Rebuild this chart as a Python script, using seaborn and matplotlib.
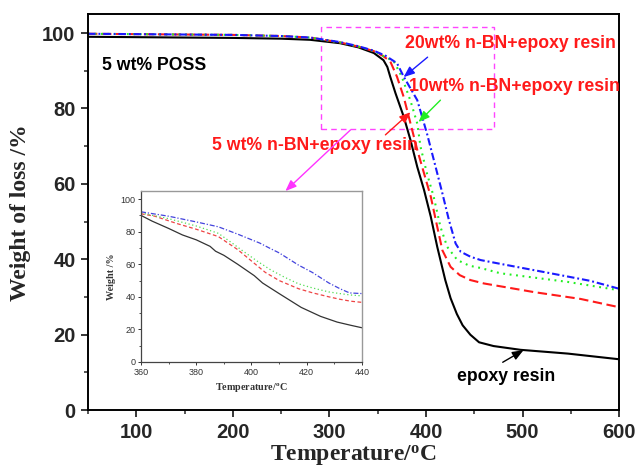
import numpy as np
import pandas as pd
import matplotlib
matplotlib.use("Agg")
import matplotlib.pyplot as plt
from matplotlib.patches import Rectangle
from matplotlib.ticker import MultipleLocator
import seaborn as sns

# ---- TGA curves (temperature in degC, residual weight in %) ----
epoxy_T = [50, 100, 200, 250, 280, 311, 330, 346, 356, 360, 363, 368.5, 377, 384, 391, 398,
           405, 411.7, 420, 425.5, 432, 438, 446, 455, 470, 498, 547, 600]
epoxy_W = [99.0, 98.9, 98.7, 98.5, 98.2, 97.3, 96.2, 94.7, 92.8, 91.0, 88.4, 84.0, 77.8, 71.6,
           64.5, 58.4, 51.3, 43.3, 34.5, 29.7, 25.5, 22.5, 20.0, 18.0, 17.0, 16.0, 15.0, 13.5]

bn5_T = [50, 100, 200, 250, 280, 311, 330, 346, 355, 363, 370, 377, 384, 391, 398, 405,
         411.7, 417, 425.5, 435, 446, 460, 512, 560, 600]
bn5_W = [99.8, 99.7, 99.5, 99.2, 98.8, 97.5, 96.4, 95.2, 94.0, 92.5, 88.4, 83.0, 76.0, 69.0,
         62.8, 56.6, 48.6, 42.4, 38.0, 35.8, 34.5, 33.6, 31.3, 29.5, 27.3]

bn10_T = [50, 100, 200, 250, 280, 311, 330, 346, 355, 366.7, 375, 384, 391, 394.4, 401, 408,
          415, 422, 432.5, 445, 456.6, 477, 547, 600]
bn10_W = [99.8, 99.7, 99.5, 99.2, 98.8, 97.5, 96.4, 95.2, 94.0, 92.5, 88.4, 82.0, 76.0, 69.8,
          62.8, 56.6, 48.6, 43.3, 39.8, 38.3, 37.7, 36.3, 34.0, 31.8]

bn20_T = [50, 100, 200, 250, 280, 311, 330, 346, 358, 370, 377, 391, 401, 410, 417, 423.8,
          430.7, 436, 446, 456.6, 477, 529, 570, 600]
bn20_W = [99.8, 99.7, 99.5, 99.2, 98.8, 97.6, 96.5, 95.3, 94.0, 92.0, 88.4, 82.2, 73.4, 64.5,
          57.5, 50.4, 44.2, 42.0, 40.7, 39.8, 38.8, 36.3, 34.3, 32.2]

# ---- enlarged 360-440 degC window ----
ins_epoxy_T = [360, 364, 370, 375, 380, 385, 387, 390, 395, 401, 404, 410, 418, 425, 431, 436, 440]
ins_epoxy_W = [90, 86.5, 82, 78, 75, 71, 68, 65.5, 60, 53, 48.5, 42, 33.5, 28, 24.5, 22.5, 21]

ins_bn5_T = [360, 365, 373, 380, 388, 395, 400, 405, 410, 417, 422, 428, 432, 436, 440]
ins_bn5_W = [91, 89.5, 85, 81.5, 77, 69, 62, 55, 50, 45, 42.5, 40, 38.5, 37.3, 36.6]

ins_bn10_T = [360, 370, 380, 388, 393, 397, 402, 407, 412, 417, 422, 428, 432, 436, 440]
ins_bn10_W = [91.5, 88, 83.5, 79, 73, 68, 62, 56.5, 52, 48, 45.5, 43, 42, 41.1, 40.6]

ins_bn20_T = [360, 370, 380, 388, 395, 403, 407, 410, 417, 422, 428, 432, 435.5, 440]
ins_bn20_W = [92.2, 89.5, 86, 83, 78.5, 73, 69.5, 67, 59.5, 55, 48.5, 45, 42.4, 42]

series_names = ["epoxy resin", "5 wt% n-BN+epoxy resin",
                "10wt% n-BN+epoxy resin", "20wt% n-BN+epoxy resin"]

sns.set_theme(style="ticks")
plt.rcParams["font.family"] = ["Liberation Sans", "DejaVu Sans"]
plt.rcParams["mathtext.fontset"] = "custom"
plt.rcParams["mathtext.rm"] = "Liberation Serif:bold"
plt.rcParams["mathtext.it"] = "Liberation Serif:bold"
plt.rcParams["mathtext.bf"] = "Liberation Serif:bold"

main = pd.concat([
    pd.DataFrame({"T": epoxy_T, "W": epoxy_W, "sample": series_names[0]}),
    pd.DataFrame({"T": bn5_T, "W": bn5_W, "sample": series_names[1]}),
    pd.DataFrame({"T": bn10_T, "W": bn10_W, "sample": series_names[2]}),
    pd.DataFrame({"T": bn20_T, "W": bn20_W, "sample": series_names[3]}),
])
inset = pd.concat([
    pd.DataFrame({"T": ins_epoxy_T, "W": ins_epoxy_W, "sample": series_names[0]}),
    pd.DataFrame({"T": ins_bn5_T, "W": ins_bn5_W, "sample": series_names[1]}),
    pd.DataFrame({"T": ins_bn10_T, "W": ins_bn10_W, "sample": series_names[2]}),
    pd.DataFrame({"T": ins_bn20_T, "W": ins_bn20_W, "sample": series_names[3]}),
])

main_style = {
    series_names[0]: dict(color="black", dashes=None),
    series_names[1]: dict(color="#ff1a1a", dashes=(4.5, 2.2)),
    series_names[2]: dict(color="#22ee22", dashes=(0.9, 2.2)),
    series_names[3]: dict(color="#1a1aff", dashes=(3.6, 1.4, 0.9, 1.4)),
}
inset_style = {
    series_names[0]: dict(color="#333333", dashes=None),
    series_names[1]: dict(color="#ee4444", dashes=(3, 2)),
    series_names[2]: dict(color="#55dd55", dashes=(1, 2)),
    series_names[3]: dict(color="#4444dd", dashes=(4, 1.5, 1, 1.5)),
}

fig = plt.figure(figsize=(6.38, 4.72), dpi=100)
fig.patch.set_facecolor("white")
ax = fig.add_axes([0.138, 0.131, 0.8323, 0.839])

for name in series_names:
    st = main_style[name]
    sub = main[main["sample"] == name]
    sns.lineplot(data=sub, x="T", y="W", ax=ax, color=st["color"], lw=1.5,
                 estimator=None, sort=False, legend=False)
    if st["dashes"] is not None:
        ax.lines[-1].set_dashes(st["dashes"])

ax.set_xlim(50, 600)
ax.set_ylim(0, 105)
ax.xaxis.set_major_locator(MultipleLocator(100))
ax.xaxis.set_minor_locator(MultipleLocator(50))
ax.yaxis.set_major_locator(MultipleLocator(20))
ax.yaxis.set_minor_locator(MultipleLocator(10))
ax.tick_params(which="major", direction="out", length=5, width=1.3, labelsize=14.5, pad=4)
ax.tick_params(which="minor", direction="out", length=3, width=1.1)
for lab in ax.get_xticklabels() + ax.get_yticklabels():
    lab.set_fontweight("bold")
for sp in ax.spines.values():
    sp.set_visible(True)
    sp.set_linewidth(1.4)
    sp.set_color("black")
ax.set_facecolor("white")
ax.grid(False)

ax.set_xlabel("Temperature/$^{\\rm o}$C", family="Liberation Serif", fontweight="bold",
              fontsize=17, labelpad=1)
ax.set_ylabel("Weight of loss /%", family="Liberation Serif", fontweight="bold",
              fontsize=17, labelpad=8)

txt = dict(fontsize=12.7, fontweight="bold", va="center", ha="left")
ax.text(64.5, 91.5, "5 wt% POSS", color="black", **txt)
ax.text(377.8, 97.3, series_names[3], color="#ff1a1a", **txt)
ax.text(382, 85.7, series_names[2], color="#ff1a1a", **txt)
ax.text(178.6, 70.3, series_names[1], color="#ff1a1a", **txt)
ax.text(431.7, 8.8, series_names[0], color="black", **txt)

def arrow(tail, head, color):
    ax.annotate("", xy=head, xytext=tail,
                arrowprops=dict(arrowstyle="-|>,head_length=0.55,head_width=0.22",
                                color=color, lw=1.0, shrinkA=0, shrinkB=0))

arrow((401.7, 93.6), (376.8, 88.3), "#1a1aff")
arrow((415, 82.2), (392.3, 76.4), "#22ee22")
arrow((358, 73.0), (384, 79.0), "#ff1a1a")
arrow((479.5, 12.7), (501, 15.9), "black")
arrow((321.8, 74.3), (254.4, 58.1), "#ff33ff")

ax.add_patch(Rectangle((291.7, 74.5), 470 - 291.7, 101.6 - 74.5, fill=False,
                       edgecolor="#ff44ff", lw=1.0, ls=(0, (4, 3))))

# zoomed window
ins = fig.add_axes([0.221, 0.2331, 0.3464, 0.3623])
for name in series_names:
    st = inset_style[name]
    sub = inset[inset["sample"] == name]
    sns.lineplot(data=sub, x="T", y="W", ax=ins, color=st["color"], lw=0.9,
                 estimator=None, sort=False, legend=False)
    if st["dashes"] is not None:
        ins.lines[-1].set_dashes(st["dashes"])

ins.set_xlim(360, 440)
ins.set_ylim(0, 105)
ins.xaxis.set_major_locator(MultipleLocator(20))
ins.xaxis.set_minor_locator(MultipleLocator(10))
ins.yaxis.set_major_locator(MultipleLocator(20))
ins.yaxis.set_minor_locator(MultipleLocator(10))
ins.tick_params(which="major", direction="out", length=2.5, width=0.7, labelsize=6.5, pad=1.5,
                colors="#333333")
ins.tick_params(which="minor", direction="out", length=1.5, width=0.6, colors="#333333")
for side in ["top", "right"]:
    ins.spines[side].set_visible(True)
    ins.spines[side].set_color("#999999")
    ins.spines[side].set_linewidth(1.0)
for side in ["left", "bottom"]:
    ins.spines[side].set_visible(True)
    ins.spines[side].set_color("#444444")
    ins.spines[side].set_linewidth(0.9)
ins.set_facecolor("white")
ins.grid(False)
ins.set_xlabel("Temperature/$^{\\rm o}$C", family="Liberation Serif", fontweight="bold",
               fontsize=7.3, labelpad=3, color="#333333")
ins.set_ylabel("Weight /%", family="Liberation Serif", fontweight="bold",
               fontsize=7.3, labelpad=3, color="#333333")

fig.savefig("out.png", dpi=100, facecolor="white")
